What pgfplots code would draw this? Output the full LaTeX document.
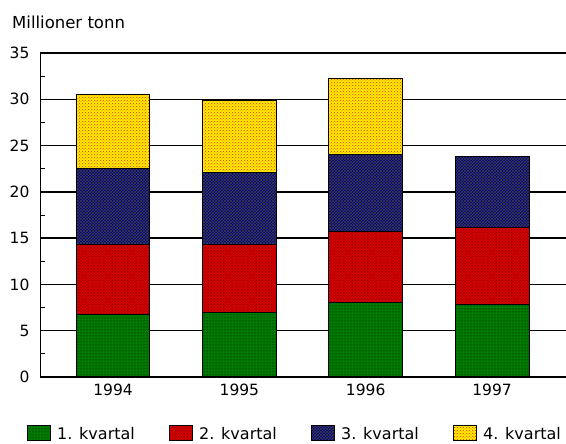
\documentclass[border=0pt]{standalone}
\usepackage{pgfplots}
\pgfplotsset{compat=1.18}
\usepackage{fontspec}
\setmainfont{DejaVu Sans}
\usetikzlibrary{patterns}

\definecolor{kvA}{RGB}{0,122,0}
\definecolor{kvB}{RGB}{212,0,0}
\definecolor{kvC}{RGB}{0,0,140}
\definecolor{kvD}{RGB}{255,238,0}

\begin{document}
\begin{tikzpicture}[x=1pt,y=1pt]
\useasboundingbox (0,0) rectangle (566,444);
\node[anchor=base west, inner sep=0pt, font=\fontsize{16.5}{19}\selectfont] at (12,415) {Millioner tonn};
\begin{axis}[
  at={(40pt,67pt)}, anchor=south west,
  scale only axis, width=540pt, height=324pt,
  xmin=-0.578, xmax=3.696, ymin=0, ymax=35,
  ybar stacked, bar width=0.585,
  axis lines=left, axis line style={-, line width=1pt},
  ytick={0,5,...,35}, minor y tick num=1,
  ymajorgrids, grid style={black, line width=1.4pt},
  major tick length=0pt, minor tick length=5pt, tick align=inside,
  minor tick style={black, line width=0.8pt},
  xtick={0,1,2,3}, xticklabels={1994,1995,1996,1997},
  xtick style={draw=none},
  tick label style={font=\fontsize{15.5}{18}\selectfont},
  yticklabel style={xshift=-7pt},
  xticklabel style={yshift=-3pt},
  /pgf/number format/assume math mode=true,
  legend columns=4,
  legend image code/.code={\draw[#1] (0pt,-7pt) rectangle (23pt,8pt);},
  legend style={draw=none, fill=none, at={(axis description cs:0,0)}, anchor=west,
    xshift=-13pt, yshift=-57pt, inner sep=0pt,
    font=\fontsize{16}{19}\selectfont,
    /tikz/every odd column/.append style={column sep=4pt}},
]
\addplot[fill=kvA, draw=black, line width=1pt, postaction={pattern=dots, pattern color=black}]
  coordinates {(0,6.8) (1,7.0) (2,8.1) (3,7.8)};
\addlegendentry{\makebox[110pt][l]{1. kvartal}}
\addplot[fill=kvB, draw=black, line width=1pt, postaction={pattern=crosshatch dots, pattern color=red!45!black}]
  coordinates {(0,7.5) (1,7.3) (2,7.6) (3,8.4)};
\addlegendentry{\makebox[110pt][l]{2. kvartal}}
\addplot[fill=kvC, draw=black, line width=1pt, postaction={pattern=crosshatch, pattern color=black!75}]
  coordinates {(0,8.2) (1,7.8) (2,8.3) (3,7.6)};
\addlegendentry{\makebox[110pt][l]{3. kvartal}}
\addplot[fill=kvD, draw=black, line width=1pt, postaction={pattern=crosshatch dots, pattern color=red!70!orange}]
  coordinates {(0,8.0) (1,7.8) (2,8.2)};
\addlegendentry{4. kvartal}
\end{axis}
\end{tikzpicture}
\end{document}
